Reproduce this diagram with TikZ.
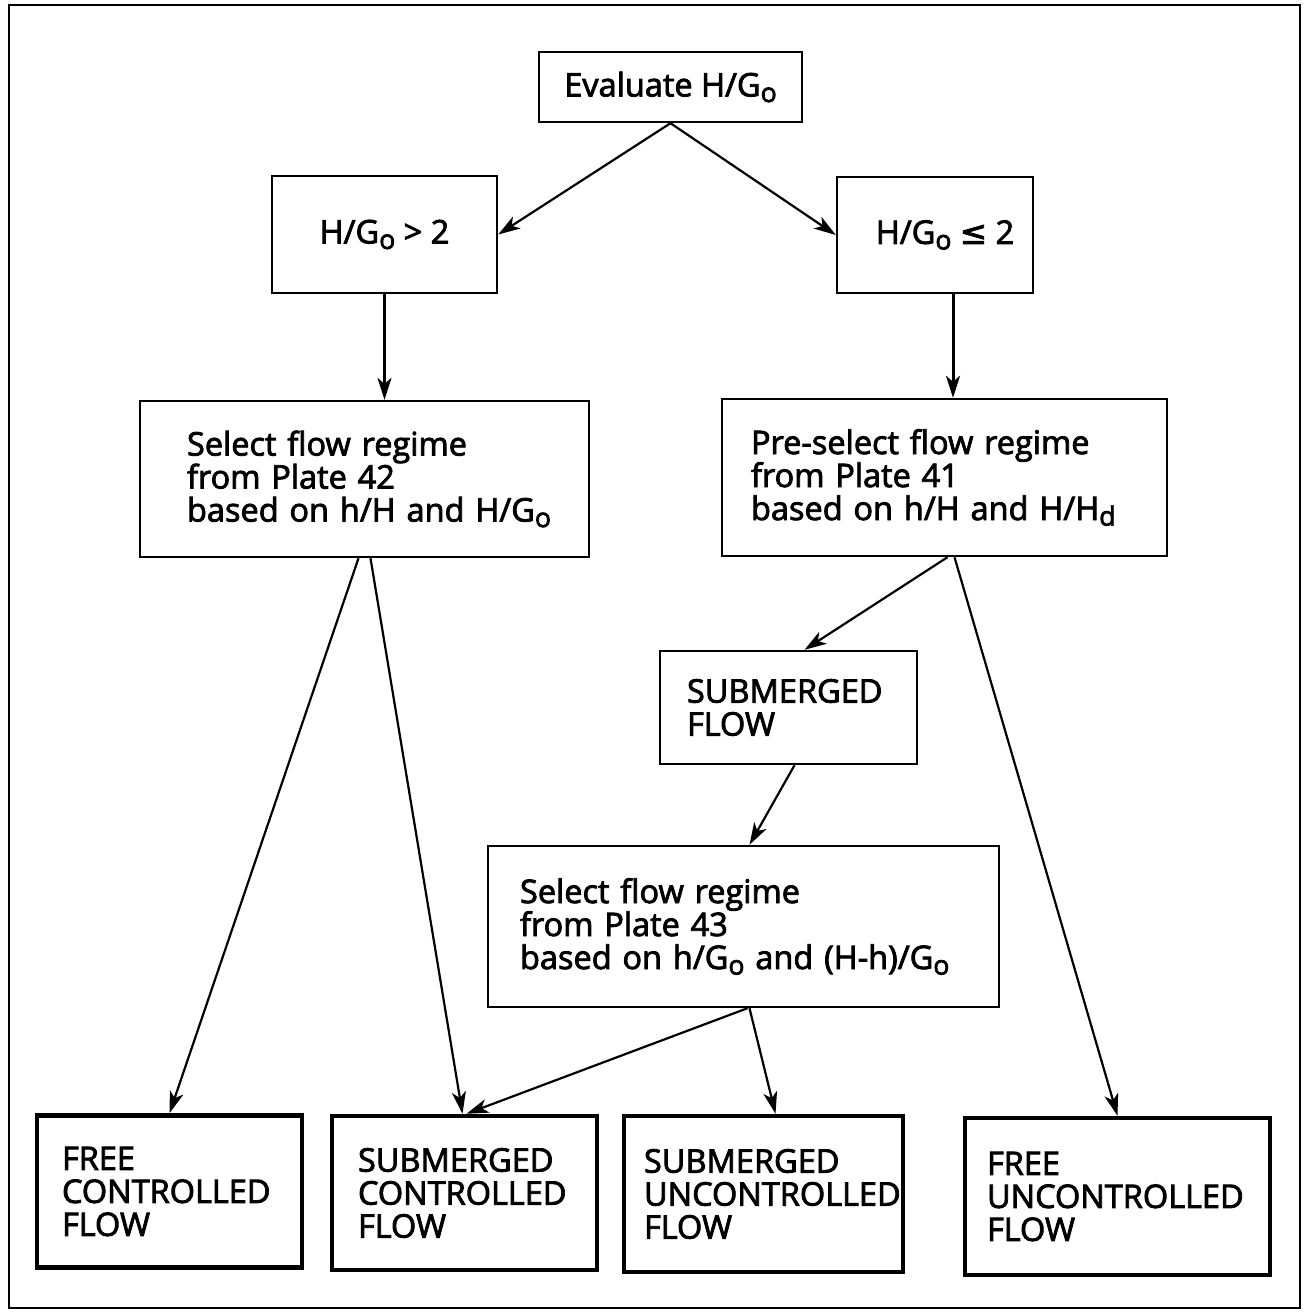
\documentclass[tikz,border=0pt]{standalone}
\usepackage{fontspec}
\setmainfont{Open Sans}[FakeBold=2.5]
\newfontfamily\symf{DejaVu Sans}[FakeBold=2.5]
\usetikzlibrary{arrows.meta}
\newcommand\sbs[1]{\raisebox{-0.32ex}{\scalebox{0.82}{#1}}}
\tikzset{
  box/.style={draw, line width=2.4pt, inner sep=0pt, align=left,
    font=\fontsize{32.5}{33}\selectfont},
  endbox/.style={box, line width=4.5pt},
  arr/.style={line width=2.2pt, -{Stealth[length=22pt, width=14pt, inset=6pt]}},
}
\begin{document}
\begin{tikzpicture}[x=1pt, y=-1pt]
\useasboundingbox (0,0) rectangle (1304,1312);
\draw[line width=2.8pt] (9,5) rectangle (1300,1308);

\node[box, align=center, minimum width=263pt, minimum height=70pt] (eval) at (670.5,87) {Evaluate H/G\sbs{o}};
\node[box, align=center, minimum width=225pt, minimum height=117pt] (gt) at (384.5,234.5) {H/G\sbs{o} > 2};
\node[box, align=center, minimum width=196pt, minimum height=116pt] (le) at (935,235) {\hspace*{20pt}H/G\sbs{o} {\symf ≤} 2};

\node[box, minimum width=449pt, minimum height=156pt, text width=355pt] (s42) at (364.5,479)
  {\mbox{Select flow regime}\\\mbox{from Plate 42}\\\mbox{based on h/H and H/G\sbs{o}}};
\node[box, minimum width=445pt, minimum height=157pt, text width=387pt] (s41) at (944.5,477.5)
  {\mbox{Pre-select flow regime}\\\mbox{from Plate 41}\\\mbox{based on h/H and H/H\sbs{d}}};
\node[box, minimum width=257pt, minimum height=113pt, text width=203pt] (sub) at (788.5,707.5)
  {\mbox{SUBMERGED}\\\mbox{FLOW}};
\node[box, minimum width=511pt, minimum height=161pt, text width=447pt] (s43) at (743.5,926.5)
  {\mbox{Select flow regime}\\\mbox{from Plate 43}\\\mbox{based on h/G\sbs{o} and (H-h)/G\sbs{o}}};

\node[endbox, minimum width=265pt, minimum height=152pt, text width=215pt] (fc) at (169.5,1191.5)
  {\mbox{FREE}\\\mbox{CONTROLLED}\\\mbox{FLOW}};
\node[endbox, minimum width=265pt, minimum height=154pt, text width=213pt] (sc) at (464.5,1193)
  {\mbox{SUBMERGED}\\\mbox{CONTROLLED}\\\mbox{FLOW}};
\node[endbox, minimum width=279pt, minimum height=156pt, text width=239pt] (su) at (763.5,1194)
  {\mbox{SUBMERGED}\\\mbox{UNCONTROLLED}\\\mbox{FLOW}};
\node[endbox, minimum width=305pt, minimum height=157pt, text width=261pt] (fu) at (1117.5,1196.5)
  {\mbox{FREE}\\\mbox{UNCONTROLLED}\\\mbox{FLOW}};

\draw[arr] (eval.south) -- (gt.east);
\draw[arr] (eval.south) -- (le.west);
\draw[arr] (gt.south) -- (s42.north -| gt.south);
\draw[arr, line width=3pt] (le.south -| 953,0) -- (s41.north -| 953,0);
\draw[arr] ([xshift=-6pt]s42.south) -- (fc.north);
\draw[arr] ([xshift=6pt]s42.south) -- ([xshift=-2pt]sc.north);
\draw[arr] ([xshift=3pt]s41.south) -- ([xshift=16pt]sub.north);
\draw[arr] ([xshift=10pt]s41.south) -- (fu.north);
\draw[arr] ([xshift=6pt]sub.south) -- ([xshift=6pt]s43.north);
\draw[arr] ([xshift=4pt]s43.south) -- ([xshift=2pt]sc.north);
\draw[arr] ([xshift=6pt]s43.south) -- ([xshift=12pt]su.north);
\end{tikzpicture}
\end{document}
